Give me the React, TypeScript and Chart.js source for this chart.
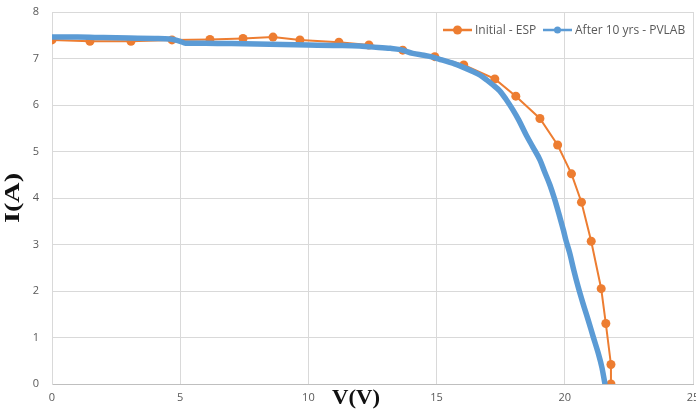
import React, { useEffect, useRef } from "react";
import { Chart, registerables } from "chart.js";

Chart.register(...registerables);

// Initial - ESP (orange, with markers)
const espV = [0, 1.48, 3.08, 4.68, 6.16, 7.45, 8.62, 9.67, 11.19, 12.36, 13.68, 14.93, 16.06, 17.27, 18.09, 19.03, 19.72, 20.26, 20.65, 21.03, 21.42, 21.6, 21.8, 21.8];
const espI = [7.40, 7.37, 7.37, 7.40, 7.41, 7.43, 7.46, 7.40, 7.35, 7.29, 7.18, 7.04, 6.86, 6.56, 6.19, 5.71, 5.14, 4.52, 3.91, 3.07, 2.05, 1.30, 0.42, 0];

// After 10 yrs - PVLAB (blue, dense measured curve)
const pvV = [0, 0.5, 1, 2, 3, 4, 4.6, 5.0, 5.2, 6, 7, 8, 9, 10, 11, 12, 12.4, 13.2, 13.6, 14.07, 14.5, 14.85, 15.2, 15.63, 16.0, 16.41, 16.7, 16.95, 17.2, 17.47, 17.7, 17.97, 18.2, 18.5, 18.75, 19.03, 19.2, 19.42, 19.6, 19.8, 19.95, 20.04, 20.19, 20.35, 20.52, 20.7, 20.91, 21.1, 21.3, 21.45, 21.56];
const pvI = [7.46, 7.46, 7.46, 7.45, 7.44, 7.43, 7.42, 7.37, 7.33, 7.33, 7.32, 7.31, 7.30, 7.29, 7.28, 7.27, 7.25, 7.22, 7.19, 7.11, 7.07, 7.03, 6.97, 6.90, 6.82, 6.72, 6.64, 6.54, 6.43, 6.30, 6.13, 5.90, 5.68, 5.35, 5.10, 4.82, 4.58, 4.28, 3.98, 3.60, 3.30, 3.10, 2.82, 2.45, 2.09, 1.75, 1.38, 1.03, 0.67, 0.35, 0.02];

const seriesNames = ["Initial - ESP", "After 10 yrs - PVLAB"];
const xTitle = "V(V)";
const yTitle = "I(A)";

const ORANGE = "#ED7D31";
const BLUE = "#5B9BD5";
const GRID = "#D9D9D9";
const TICK = "#595959";

const overlayPlugin = {
  id: "overlay",
  afterDraw(chart: any) {
    const ctx = chart.ctx as CanvasRenderingContext2D;
    ctx.save();
    // Legend
    const ly = 30;
    const items = [
      { x: 443, color: ORANGE, r: 4.5, text: seriesNames[0] },
      { x: 543, color: BLUE, r: 3.5, text: seriesNames[1] },
    ];
    ctx.font = "12px 'Open Sans', 'Liberation Sans', sans-serif";
    ctx.textBaseline = "middle";
    ctx.textAlign = "left";
    for (const it of items) {
      ctx.strokeStyle = it.color;
      ctx.lineWidth = 2.5;
      ctx.beginPath();
      ctx.moveTo(it.x, ly);
      ctx.lineTo(it.x + 29, ly);
      ctx.stroke();
      ctx.fillStyle = it.color;
      ctx.beginPath();
      ctx.arc(it.x + 14.5, ly, it.r, 0, Math.PI * 2);
      ctx.fill();
      ctx.fillStyle = TICK;
      ctx.fillText(it.text, it.x + 32, ly + 1);
    }
    // Axis titles
    ctx.fillStyle = "#111";
    ctx.font = "bold 20px 'Liberation Serif', 'Times New Roman', serif";
    ctx.textAlign = "center";
    ctx.textBaseline = "middle";
    {
      const w = ctx.measureText(xTitle).width;
      const sx = 48 / w;
      ctx.save();
      ctx.translate(356, 399);
      ctx.scale(sx, 1);
      ctx.fillText(xTitle, 0, 0);
      ctx.restore();
    }
    {
      const w = ctx.measureText(yTitle).width;
      const sx = 50 / w;
      ctx.save();
      ctx.translate(14, 198);
      ctx.rotate(-Math.PI / 2);
      ctx.scale(sx, 1);
      ctx.fillText(yTitle, 0, 0);
      ctx.restore();
    }
    ctx.restore();
  },
};

export default function App() {
  const ref = useRef<HTMLCanvasElement | null>(null);
  useEffect(() => {
    if (!ref.current) return;
    const chart = new Chart(ref.current, {
      type: "line",
      data: {
        datasets: [
          {
            label: seriesNames[0],
            data: espV.map((v, i) => ({ x: v, y: espI[i] })),
            borderColor: ORANGE,
            backgroundColor: ORANGE,
            borderWidth: 2,
            pointRadius: 4.5,
            pointBorderWidth: 0,
            pointBackgroundColor: ORANGE,
            tension: 0,
            order: 1,
          },
          {
            label: seriesNames[1],
            data: pvV.map((v, i) => ({ x: v, y: pvI[i] })),
            borderColor: BLUE,
            backgroundColor: BLUE,
            borderWidth: 5.5,
            pointRadius: 0,
            borderCapStyle: "round",
            borderJoinStyle: "round",
            cubicInterpolationMode: "monotone",
            order: 0,
          },
        ],
      },
      options: {
        animation: false,
        responsive: false,
        maintainAspectRatio: false,
        layout: { autoPadding: false, padding: { top: 12, right: 3, left: 0, bottom: 0 } },
        plugins: { legend: { display: false }, tooltip: { enabled: false } },
        scales: {
          x: {
            type: "linear",
            min: 0,
            max: 25,
            ticks: {
              stepSize: 5,
              padding: 7,
              color: TICK,
              font: { family: "'Open Sans', 'Liberation Sans', sans-serif", size: 11 },
              maxRotation: 0,
            },
            grid: { color: GRID, drawTicks: false, lineWidth: 1 },
            border: { color: "#BFBFBF" },
            afterFit: (s: any) => {
              s.height = 30;
              s.paddingLeft = 0;
              s.paddingRight = 0;
            },
          },
          y: {
            type: "linear",
            min: 0,
            max: 8,
            ticks: {
              stepSize: 1,
              padding: 13,
              color: TICK,
              font: { family: "'Open Sans', 'Liberation Sans', sans-serif", size: 11 },
            },
            grid: { color: GRID, drawTicks: false, lineWidth: 1 },
            border: { color: GRID },
            afterFit: (s: any) => {
              s.width = 52;
              s.paddingTop = 0;
              s.paddingBottom = 0;
            },
          },
        },
      },
      plugins: [overlayPlugin],
    } as any);
    return () => chart.destroy();
  }, []);
  return (
    <div style={{ position: "fixed", left: 0, top: 0, width: 696, height: 414, background: "#fff" }}>
      <canvas ref={ref} width={696} height={414} style={{ display: "block", width: 696, height: 414 }} />
    </div>
  );
}
